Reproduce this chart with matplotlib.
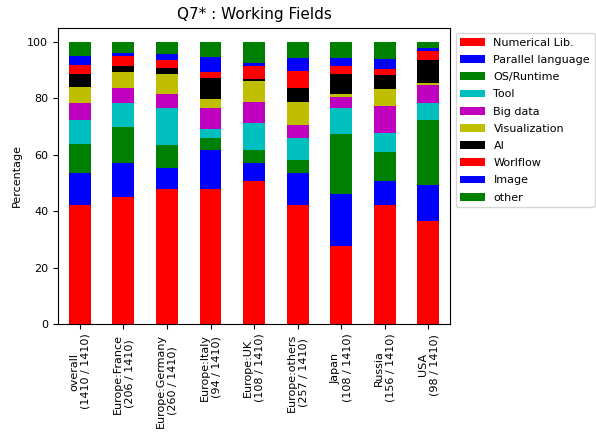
import pandas as pd
import matplotlib
matplotlib.use("Agg")
import matplotlib.pyplot as plt

# Categories (x axis), with respondents count
regions = ["overall\n(1410 / 1410)", "Europe:France\n(206 / 1410)",
           "Europe:Germany\n(260 / 1410)", "Europe:Italy\n(94 / 1410)",
           "Europe:UK\n(108 / 1410)", "Europe:others\n(257 / 1410)",
           "Japan\n(108 / 1410)", "Russia\n(156 / 1410)", "USA\n(98 / 1410)"]

# Percentage of each working field, per region
numerical_lib = [42.2, 45.0, 47.9, 47.9, 50.7, 42.0, 27.7, 42.2, 36.6]
parallel_lang = [11.2, 12.1, 7.5, 13.8, 6.4, 11.5, 18.4, 8.5, 12.5]
os_runtime = [10.4, 12.7, 8.0, 4.2, 4.6, 4.6, 21.2, 10.3, 23.2]
tool = [8.5, 8.5, 13.1, 3.2, 9.5, 7.8, 9.2, 6.7, 6.0]
big_data = [6.0, 5.3, 5.0, 7.4, 7.5, 4.6, 3.9, 9.5, 6.4]
visualization = [5.7, 5.7, 7.1, 3.2, 7.4, 8.2, 1.1, 6.1, 0.7]
ai = [4.6, 2.1, 2.1, 7.4, 0.7, 4.9, 7.1, 4.9, 8.1]
workflow = [3.1, 3.6, 2.8, 2.2, 4.6, 6.0, 2.8, 2.1, 3.2]
image = [3.3, 1.0, 2.1, 5.3, 1.1, 4.6, 2.8, 3.6, 1.1]
other = [5.0, 4.0, 4.4, 5.4, 7.5, 5.8, 5.8, 6.1, 2.2]

field_names = ["Numerical Lib.", "Parallel language", "OS/Runtime", "Tool",
               "Big data", "Visualization", "AI", "Worlflow", "Image", "other"]
field_colors = ["#ff0000", "#0000ff", "#008000", "#00bfbf", "#bf00bf",
                "#bfbf00", "#000000", "#ff0000", "#0000ff", "#008000"]

df = pd.DataFrame({
    "Numerical Lib.": numerical_lib,
    "Parallel language": parallel_lang,
    "OS/Runtime": os_runtime,
    "Tool": tool,
    "Big data": big_data,
    "Visualization": visualization,
    "AI": ai,
    "Worlflow": workflow,
    "Image": image,
    "other": other,
}, index=regions)[field_names]

fig = plt.figure(figsize=(5.96, 4.32), dpi=100)
ax = fig.add_axes([0.0973, 0.25, 0.658, 0.686])
df.plot(kind="bar", stacked=True, color=field_colors, width=0.5, ax=ax,
        legend=False)

ax.set_title("Q7* : Working Fields", fontsize=11)
ax.set_ylabel("Percentage", fontsize=8)
ax.set_ylim(0, 105)
ax.tick_params(axis="both", labelsize=8)
# legend sits outside the axes, partly past the right edge like the original
ax.legend(loc="upper left", bbox_to_anchor=(1.0, 1.0), fontsize=8,
          labelspacing=0.65, handlelength=2.2)

fig.savefig("out.png", dpi=100)
